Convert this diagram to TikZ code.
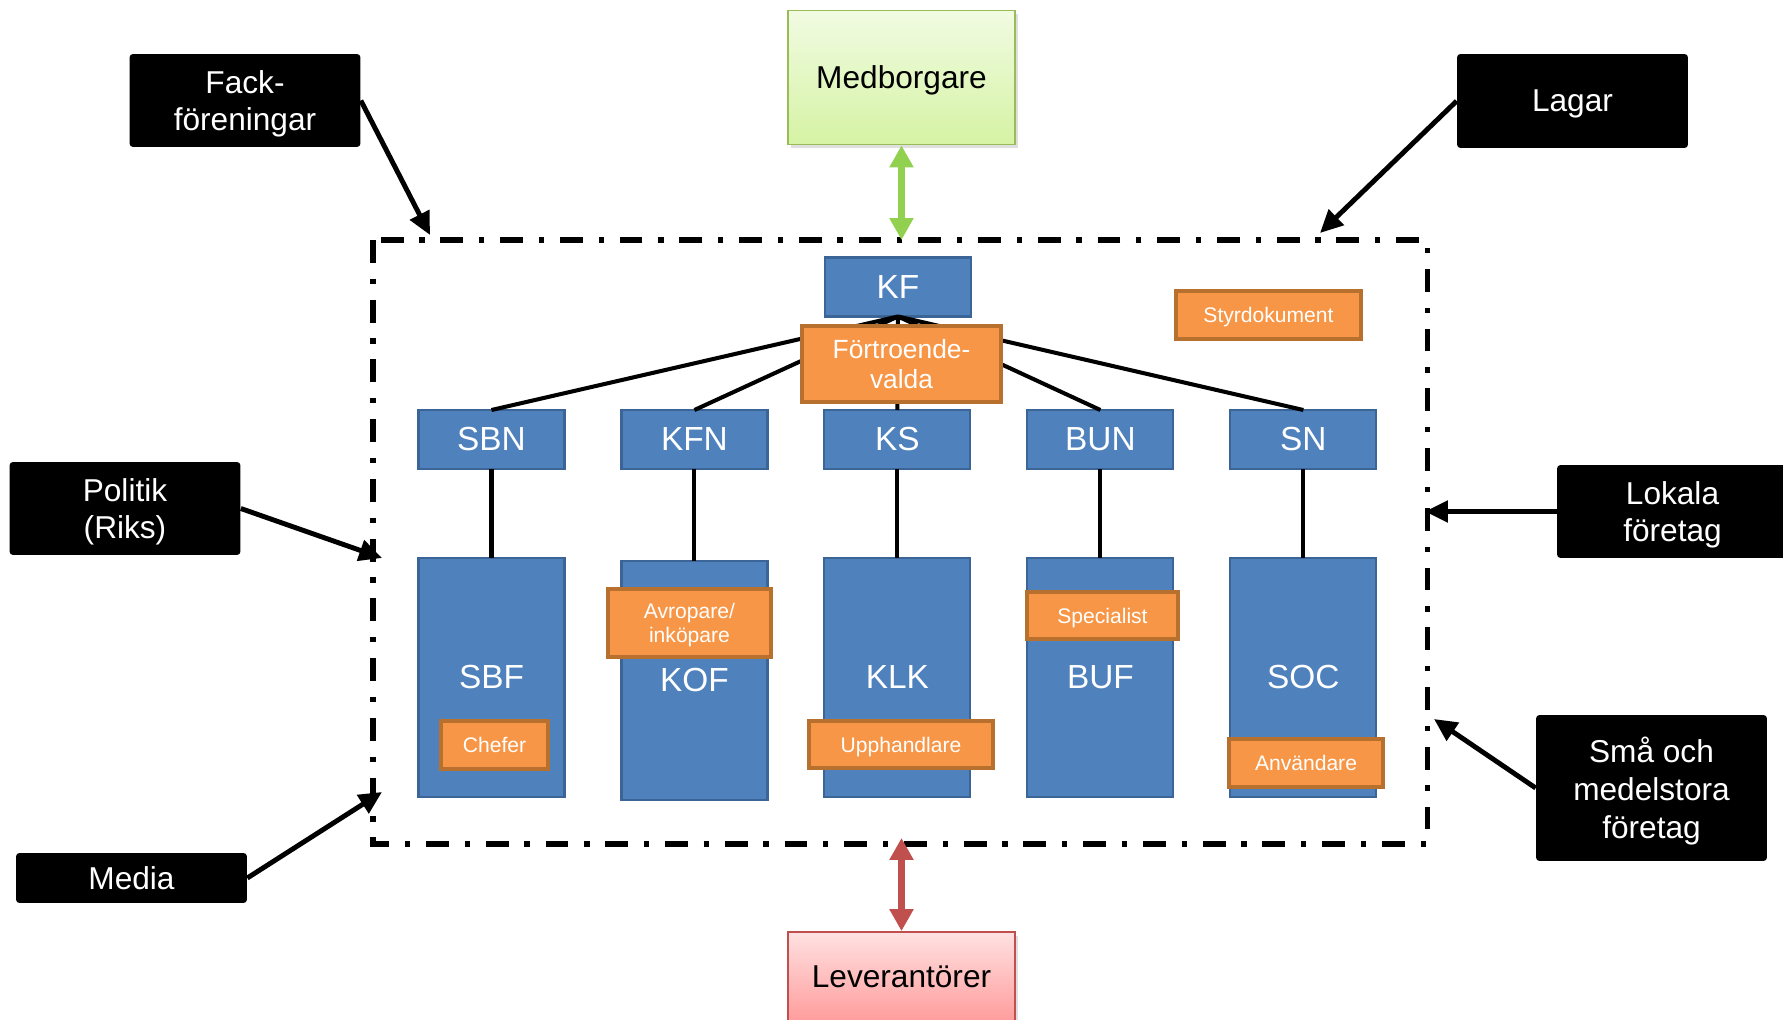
\documentclass[tikz,border=0pt]{standalone}
\usepackage{fontspec}
\setmainfont{Liberation Sans}
\usepackage{xcolor}
\usetikzlibrary{positioning,arrows.meta,shadows}
\definecolor{orgblue}{HTML}{4F81BD}
\definecolor{orgline}{HTML}{3A6596}
\definecolor{roleorange}{HTML}{F79646}
\definecolor{roleline}{HTML}{B8702F}
\definecolor{medline}{HTML}{9BBB59}
\definecolor{medtop}{HTML}{F1FBE2}
\definecolor{medbot}{HTML}{D5F3A4}
\definecolor{medarrow}{HTML}{92D050}
\definecolor{levline}{HTML}{C0504D}
\definecolor{levtop}{HTML}{FFE1E1}
\definecolor{levbot}{HTML}{FF9C9C}

\begin{document}
\begin{tikzpicture}[x=0.02cm, y=-0.02cm,
    org/.style = {draw=orgline, fill=orgblue, line width=1.2pt, text=white, minimum width=2.92cm,
      inner sep=0pt, outer sep=0pt, font=\fontsize{19}{23}\selectfont},
    board/.style = {org, minimum height=1.18cm},
    office/.style = {org, minimum height=4.78cm},
    role/.style = {draw=roleline, fill=roleorange, line width=2.5pt, text=white, inner sep=0pt,
      align=center, text depth=0pt, font=\fontsize{12}{14}\selectfont},
    actor/.style = {fill=black, text=white, rounded corners=2pt, align=center, minimum width=4.62cm,
      inner sep=0pt, text depth=0pt, font=\fontsize{18}{21.5}\selectfont},
    party/.style = {minimum width=4.54cm, line width=1pt, inner sep=0pt, text depth=0pt,
      drop shadow={opacity=0.25, shadow xshift=1.5pt, shadow yshift=-2pt},
      font=\fontsize{18}{21.5}\selectfont},
    frame/.style = {line width=2.85pt, dash pattern=on 13pt off 9pt on 3pt off 9pt},
    link/.style = {line width=2.3pt},
    influence/.style = {-{Triangle[length=13pt,width=12pt]}, line width=2.8pt},
    exchange/.style = {{Triangle[length=12.5pt,width=13pt]}-{Triangle[length=12.5pt,width=13pt]}, line width=4pt}
  ]
  \clip (0,0) rectangle (1783,1020);

  % outer parties
  \node[party, draw=medline, top color=medtop, bottom color=medbot, minimum height=2.68cm] (med) at (901.5,77.5) {Medborgare};
  \node[party, draw=levline, top color=levtop, bottom color=levbot, minimum height=1.8cm] (lev) at (901.5,977) {Leverantörer};

  % the municipality
  \draw[frame] (373,240) rectangle (1427,844);

  \node[board] (kf) at (898,287) {KF};
  \node[board] (sbn) at (491.5,439.5) {SBN};
  \node[board, right=1.14cm of sbn] (kfn) {KFN};
  \node[board, right=1.14cm of kfn] (ks) {KS};
  \node[board, right=1.14cm of ks] (bun) {BUN};
  \node[board, right=1.14cm of bun] (sn) {SN};

  \node[office, below=1.78cm of sbn] (sbf) {SBF};
  \node[office, below=1.78cm of kfn, yshift=-0.06cm] (kof) {KOF};
  \node[office, below=1.78cm of ks] (klk) {KLK};
  \node[office, below=1.78cm of bun] (buf) {BUF};
  \node[office, below=1.78cm of sn] (soc) {SOC};

  \foreach \n in {sbn,kfn,ks,bun,sn}
    \draw[link] (kf.south) -- (\n.north);
  \foreach \a/\b in {sbn/sbf,kfn/kof,ks/klk,bun/buf,sn/soc}
    \draw[link] (\a) -- (\b);

  \node[role, minimum width=3.98cm, minimum height=1.52cm, font=\fontsize{15}{17}\selectfont] (ftv) at (901.5,364) {Förtroende-\\valda};
  \node[role, minimum width=3.7cm, minimum height=0.96cm] (styr) at (1268.5,315) {Styrdokument};
  \node[role, minimum width=2.14cm, minimum height=0.96cm] (chefer) at (494.5,745) {Chefer};
  \node[role, minimum width=3.26cm, minimum height=1.36cm] (avrop) at (689.5,623) {Avropare/\\inköpare};
  \node[role, minimum width=3.68cm, minimum height=0.94cm] (upph) at (901,744.5) {Upphandlare};
  \node[role, minimum width=3.02cm, minimum height=0.94cm] (spec) at (1102.5,615.5) {Specialist};
  \node[role, minimum width=3.08cm, minimum height=0.96cm] (anv) at (1306,763) {Användare};

  % surrounding actors
  \node[actor, minimum height=1.86cm] (fack) at (245,100.5) {Fack-\\föreningar};
  \node[actor, minimum height=1.88cm] (lagar) at (1572.5,101) {Lagar};
  \node[actor, minimum height=1.86cm] (politik) at (125,508.5) {Politik\\(Riks)};
  \node[actor, minimum height=1.86cm] (lokala) at (1672.5,511.5) {Lokala\\företag};
  \node[actor, minimum height=1cm] (media) at (131.5,878) {Media};
  \node[actor, minimum height=2.92cm] (sma) at (1651.5,788) {Små och\\medelstora\\företag};

  \coordinate (fackmal) at (430,235);
  \coordinate (lagarmal) at (1320,233);
  \coordinate (politikmal) at (382,558);
  \coordinate (lokalamal) at (1425,511.5);
  \coordinate (mediamal) at (382,792);
  \coordinate (smamal) at (1434,719);
  \coordinate (medmal) at (901.5,240);
  \coordinate (levmal) at (901.5,838);

  \draw[influence] (fack.east) -- (fackmal);
  \draw[influence] (lagar.west) -- (lagarmal);
  \draw[influence] (politik.east) -- (politikmal);
  \draw[influence] (lokala.west) -- (lokalamal);
  \draw[influence] (media.east) -- (mediamal);
  \draw[influence] (sma.west) -- (smamal);
  \draw[exchange, medarrow] (med.south) -- (medmal);
  \draw[exchange, levline] (lev.north) -- (levmal);
\end{tikzpicture}
\end{document}
